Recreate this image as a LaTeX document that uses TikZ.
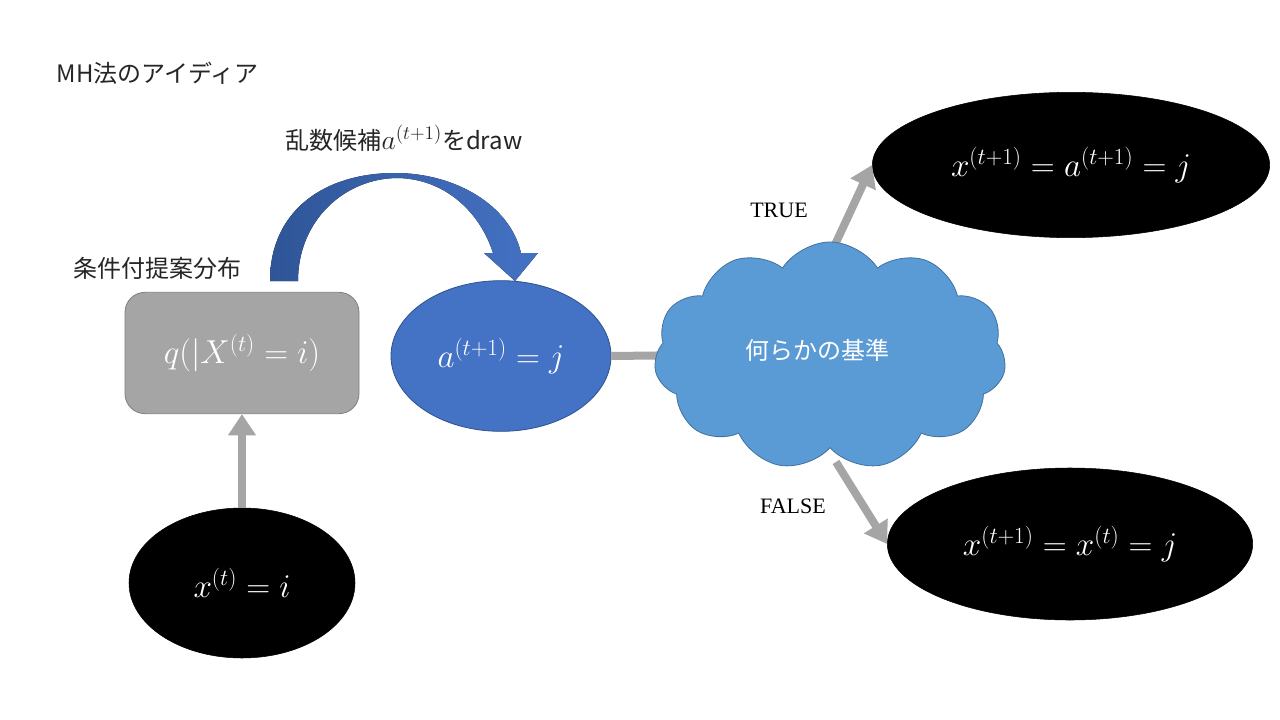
\documentclass[tikz,border=0pt]{standalone}
\usepackage{fontspec}
\newfontfamily\jp{Noto Sans CJK JP}
\newfontfamily\serifl{Liberation Serif}
\usetikzlibrary{arrows.meta,shapes.geometric,shapes.symbols}
\definecolor{arrgray}{HTML}{A5A5A5}
\definecolor{boxgray}{HTML}{A5A5A5}
\definecolor{boxedge}{HTML}{7F7F7F}
\definecolor{blue1}{HTML}{4472C4}
\definecolor{blueedge}{HTML}{2F528F}
\definecolor{arcdark}{HTML}{2F5597}
\definecolor{cloudfill}{HTML}{5B9BD5}
\definecolor{cloudedge}{HTML}{41719C}
\begin{document}
\begin{tikzpicture}[x=0.75pt,y=-0.75pt,
  grayline/.style={draw=arrgray, line width=6pt},
  grayarrow/.style={grayline, -{Triangle[width=20pt,length=16pt]}},
  blackell/.style={ellipse, fill=black, draw=black, text=white, inner sep=0pt},
  lbl/.style={font=\jp\fontsize{18}{22}\selectfont, text=black!85},
  mathlbl/.style={font=\fontsize{25.5}{30}\selectfont},
  tflbl/.style={font=\serifl\fontsize{16.5}{20}\selectfont, text=black}]
\useasboundingbox (0,0) rectangle (1280,720);
\fill[white] (0,0) rectangle (1280,720);

% labels
\node[lbl, anchor=west] (title) at (52,73) {MH法のアイディア};
\node[lbl] (drawlbl) at (404,138) {乱数候補{\fontsize{21}{24}\selectfont$a^{(t+1)}$}をdraw};
\node[lbl, anchor=west] (qlbl) at (69,268) {条件付提案分布};

% nodes
\node[rectangle, rounded corners=15pt, fill=boxgray, draw=boxedge, line width=0.6pt,
      minimum width=175.5pt, minimum height=91pt, text=white, mathlbl] (q) at (242,353) {$q(|X^{(t)}=i)$};
\node[blackell, minimum width=169.5pt, minimum height=112.5pt, mathlbl] (xt) at (242,583) {$x^{(t)}=i$};
\node[ellipse, fill=blue1, draw=blueedge, line width=0.6pt, inner sep=0pt,
      minimum width=165pt, minimum height=113pt, text=white, mathlbl] (a) at (501,356) {$a^{(t+1)}=j$};
\node[blackell, minimum width=298pt, minimum height=109pt, mathlbl] (tr) at (1071,165) {$x^{(t+1)}=a^{(t+1)}=j$};
\node[blackell, minimum width=274pt, minimum height=114pt, mathlbl] (fr) at (1070,544) {$x^{(t+1)}=x^{(t)}=j$};

% connectors behind cloud
\coordinate (ts) at (826,264);
\coordinate (fs) at (836,462);
\draw[grayline] (a.east) -- (700,355) coordinate (cw);
\draw[grayarrow] (ts) -- (tr.west);
\draw[grayarrow] (fs) -- (fr.west);

% cloud
\node[cloud, cloud puffs=11, cloud puff arc=115, aspect=1.6, fill=cloudfill, draw=cloudedge,
      line width=0.6pt, minimum width=264pt, minimum height=171pt, inner sep=0pt] (cloud) at (830,356) {};
\node[text=white, font=\jp\fontsize{18}{22}\selectfont] (crit) at (817,350) {何らかの基準};

\draw[grayarrow] (xt.north) -- (q.south);

% curved block arrow
\fill[left color=arcdark, right color=blue1]
  (270,281) .. controls (270,210) and (325,173) .. (395,173)
  .. controls (455,173) and (510,205) .. (521,253)
  -- (538,253) -- (515,281) -- (484,253) -- (493,253)
  .. controls (480,212) and (445,179) .. (398,178)
  .. controls (345,178) and (298,220) .. (298,281) -- cycle;

\node[tflbl] (truelbl) at (779,210) {TRUE};
\node[tflbl] (falselbl) at (793,506) {FALSE};
\end{tikzpicture}
\end{document}
